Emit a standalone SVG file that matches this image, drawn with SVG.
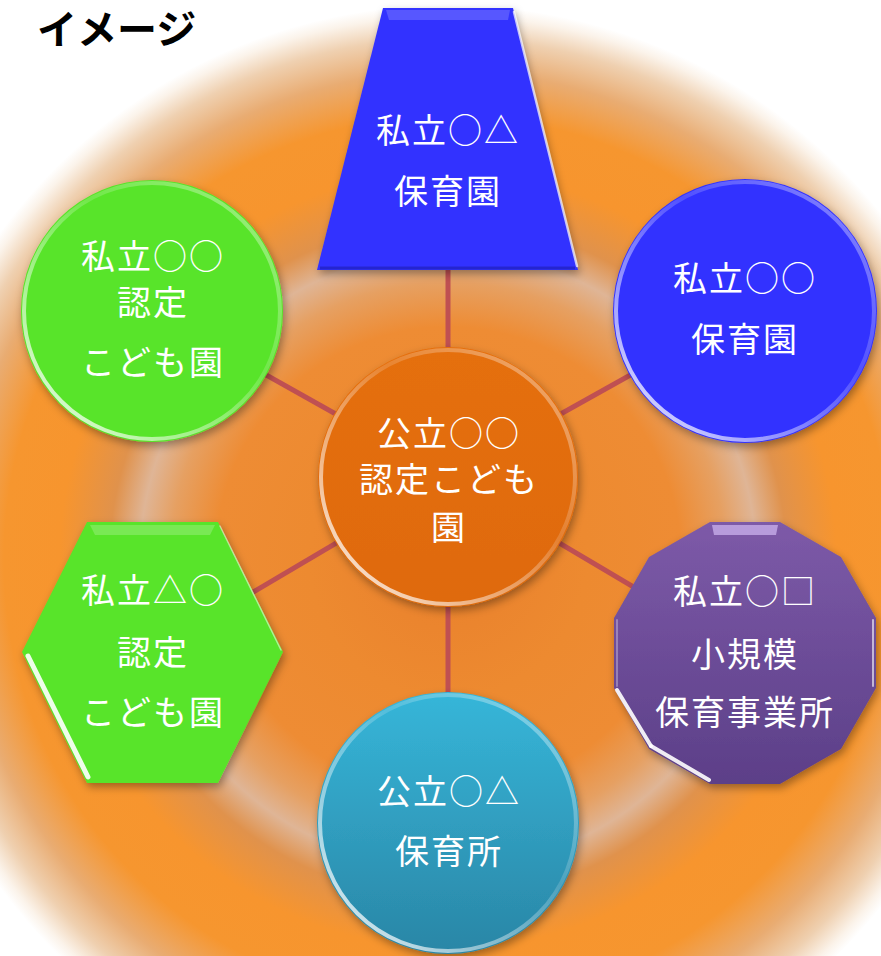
<svg xmlns="http://www.w3.org/2000/svg" width="881" height="956" viewBox="0 0 881 956">
<defs>
<radialGradient id="bg" gradientUnits="userSpaceOnUse" cx="448" cy="560" r="555">
<stop offset="0" stop-color="#e9802c"/>
<stop offset="0.25" stop-color="#ed8a30"/>
<stop offset="0.42" stop-color="#ee8c34"/>
<stop offset="0.5" stop-color="#e6a062"/>
<stop offset="0.555" stop-color="#dfb596"/>
<stop offset="0.61" stop-color="#e0924c"/>
<stop offset="0.7" stop-color="#f7952e"/>
<stop offset="0.8" stop-color="#f6962f"/>
<stop offset="0.88" stop-color="#e9ac72"/>
<stop offset="0.94" stop-color="#efd0b0"/>
<stop offset="0.98" stop-color="#fbf3ea"/>
<stop offset="1" stop-color="#ffffff"/>
</radialGradient>
<linearGradient id="rim" x1="0" y1="1" x2="1" y2="0">
<stop offset="0" stop-color="#ffffff" stop-opacity="0.95"/>
<stop offset="0.3" stop-color="#ffffff" stop-opacity="0.5"/>
<stop offset="0.6" stop-color="#ffffff" stop-opacity="0.15"/>
<stop offset="1" stop-color="#ffffff" stop-opacity="0.45"/>
</linearGradient>
<linearGradient id="orangeFill" x1="0" y1="0" x2="0" y2="1">
<stop offset="0" stop-color="#e56f0e"/>
<stop offset="1" stop-color="#df6a08"/>
</linearGradient>
<linearGradient id="cyanFill" x1="0" y1="0" x2="0" y2="1">
<stop offset="0" stop-color="#36b6d9"/>
<stop offset="1" stop-color="#2a86a6"/>
</linearGradient>
<linearGradient id="purpleFill" x1="0" y1="0" x2="0" y2="1">
<stop offset="0" stop-color="#7d5aa8"/>
<stop offset="1" stop-color="#5c3f88"/>
</linearGradient>
<filter id="sh" x="-20%" y="-20%" width="140%" height="140%">
<feDropShadow dx="2" dy="4" stdDeviation="4" flood-color="#000" flood-opacity="0.35"/>
</filter>
<style>
.t { font-family: "Noto Sans CJK JP", "Noto Sans", sans-serif; font-size: 34px; fill: #ffffff; text-anchor: middle; letter-spacing: 2px; }
.title { font-family: "Noto Sans CJK JP", "Noto Sans", sans-serif; font-size: 40px; font-weight: bold; fill: #000000; }
.rim { fill: none; stroke: url(#rim); stroke-width: 4; }
.conn { stroke: #bf5052; stroke-width: 5; fill: none; }
.hl { fill: none; stroke: #ffffff; stroke-linecap: round; }
</style>
</defs>

<rect x="0" y="0" width="881" height="956" fill="#ffffff"/>
<circle cx="448" cy="560" r="555" fill="url(#bg)"/>

<text class="title" x="37" y="44">イメージ</text>

<g id="connectors">
<line class="conn" x1="448" y1="477" x2="448" y2="262"/>
<line class="conn" x1="448" y1="477" x2="448" y2="700"/>
<line class="conn" x1="448" y1="477" x2="152" y2="311"/>
<line class="conn" x1="448" y1="477" x2="745" y2="311"/>
<line class="conn" x1="448" y1="477" x2="152" y2="652"/>
<line class="conn" x1="448" y1="477" x2="745" y2="653"/>
</g>

<g id="node-trapezoid">
<polygon points="383,8 513,8 578,270 317,270" fill="#3333ff" filter="url(#sh)"/>
<polygon points="386,10 510,10 508,20 389,20" fill="#ffffff" opacity="0.18"/>
<line class="hl" x1="514" y1="12" x2="577" y2="266" stroke-width="2.5" opacity="0.7"/>
<line x1="320" y1="268" x2="575" y2="268" stroke="#1a1aa0" stroke-width="3" opacity="0.5"/>
<text class="t" x="448" y="143">私立○△</text>
<text class="t" x="448" y="204">保育園</text>
</g>

<g id="node-blue-circle">
<circle cx="745" cy="311" r="132" fill="#3333ff" filter="url(#sh)"/>
<circle class="rim" cx="745" cy="311" r="129"/>
<text class="t" x="745" y="291">私立○○</text>
<text class="t" x="745" y="352">保育園</text>
</g>

<g id="node-green-circle">
<circle cx="152" cy="311" r="131" fill="#58e42a" filter="url(#sh)"/>
<circle class="rim" cx="152" cy="311" r="128"/>
<text class="t" x="153" y="269">私立○○</text>
<text class="t" x="153" y="315">認定</text>
<text class="t" x="153" y="375">こども園</text>
</g>

<g id="node-center">
<circle cx="448" cy="477" r="130" fill="url(#orangeFill)" filter="url(#sh)"/>
<circle class="rim" cx="448" cy="477" r="127"/>
<text class="t" x="449" y="446">公立○○</text>
<text class="t" x="449" y="492">認定こども</text>
<text class="t" x="449" y="540">園</text>
</g>

<g id="node-hexagon">
<polygon points="87,522 218,522 283,652 218,783 87,783 22,652" fill="#58e42a" filter="url(#sh)"/>
<polygon points="90,525 215,525 210,535 95,535" fill="#ffffff" opacity="0.2"/>
<line class="hl" x1="28" y1="656" x2="88" y2="777" stroke-width="5" opacity="0.9"/>
<line class="hl" x1="220" y1="526" x2="281" y2="650" stroke-width="1.5" opacity="0.5"/>
<text class="t" x="153" y="603">私立△○</text>
<text class="t" x="153" y="665">認定</text>
<text class="t" x="153" y="725">こども園</text>
</g>

<g id="node-dodecagon">
<polygon points="710,522 780,522 841,557 876,618 876,688 841,749 780,784 710,784 649,749 614,688 614,618 649,557" fill="url(#purpleFill)" filter="url(#sh)"/>
<polygon points="712,525 778,525 776,535 714,535" fill="#e0c8ff" opacity="0.6"/>
<line class="hl" x1="617" y1="690" x2="651" y2="746" stroke-width="4" opacity="0.9"/>
<line class="hl" x1="651" y1="746" x2="709" y2="780" stroke-width="4" opacity="0.9"/>
<line class="hl" x1="873" y1="620" x2="873" y2="686" stroke-width="2" opacity="0.6"/>
<line class="hl" x1="617" y1="620" x2="617" y2="686" stroke-width="2" opacity="0.3"/>
<text class="t" x="745" y="604">私立○□</text>
<text class="t" x="745" y="667">小規模</text>
<text class="t" x="745" y="725">保育事業所</text>
</g>

<g id="node-cyan-circle">
<circle cx="448" cy="823" r="131" fill="url(#cyanFill)" filter="url(#sh)"/>
<circle class="rim" cx="448" cy="823" r="128"/>
<text class="t" x="449" y="804">公立○△</text>
<text class="t" x="449" y="864">保育所</text>
</g>
</svg>
